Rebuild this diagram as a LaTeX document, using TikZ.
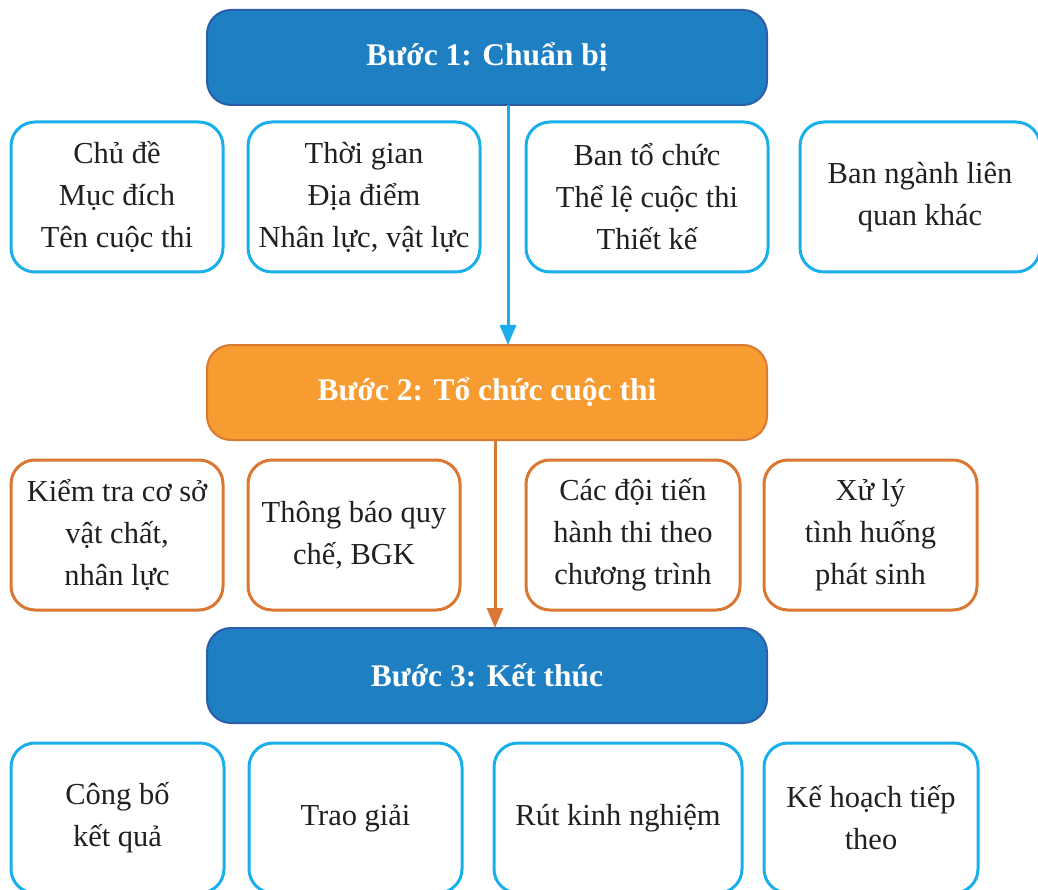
\documentclass[tikz,border=0pt]{standalone}
\usepackage{fontspec}
\setmainfont{Liberation Serif}
\usetikzlibrary{positioning, arrows.meta}

\definecolor{stepblue}{HTML}{1E7FC3}
\definecolor{stepblueline}{HTML}{2B5DA8}
\definecolor{steporange}{HTML}{F69C30}
\definecolor{steporangeline}{HTML}{D97A33}
\definecolor{boxcyan}{HTML}{1AAFEA}
\definecolor{boxorange}{HTML}{DA7833}
\definecolor{inktext}{HTML}{231F20}

\begin{document}
\begin{tikzpicture}[
            x=1pt, y=-1pt,
            header/.style={rectangle, rounded corners=24pt, draw, line width=2pt, outer sep=0pt,
                minimum width=560pt, minimum height=95pt, text=white,
                font=\fontsize{31.5}{36}\selectfont\bfseries},
            item/.style={rectangle, rounded corners=24pt, draw, line width=3pt, outer sep=0pt,
                fill=white, minimum height=150pt, inner sep=0pt, align=center, text=inktext,
                font=\fontsize{30.5}{42}\selectfont},
            flow/.style={line width=3pt, -{Triangle[length=20pt, width=16pt]}},
            node distance=25pt
        ]
        \useasboundingbox (0,0) rectangle (1038,890);

        % Steps
        \node[header, fill=stepblue, draw=stepblueline] (prep) at (487,57.5) {Bước 1: Chuẩn bị};
        \node[header, fill=steporange, draw=steporangeline] (run) at (487,392.5) {Bước 2: Tổ chức cuộc thi};
        \node[header, fill=stepblue, draw=stepblueline] (close) at (487,675.5) {Bước 3: Kết thúc};

        % flow between steps
        \draw[flow, boxcyan] ([xshift=21pt]prep.south) -- ([xshift=21pt]run.north);
        \draw[flow, boxorange] ([xshift=8pt]run.south) -- ([xshift=8pt]close.north);

        % Step 1 items
        \node[item, draw=boxcyan, minimum width=212pt] (topic) at (117,197) {Chủ đề\\Mục đích\\Tên cuộc thi};
        \node[item, draw=boxcyan, minimum width=232pt, right=25pt of topic] (time) {Thời gian\\Địa điểm\\Nhân lực, vật lực};
        \node[item, draw=boxcyan, minimum width=242pt, right=46pt of time] (board) {Ban tổ chức\\Thể lệ cuộc thi\\Thiết kế};
        \node[item, draw=boxcyan, minimum width=240pt, right=32pt of board] (others) {Ban ngành liên\\quan khác};

        % Step 2 items
        \node[item, draw=boxorange, minimum width=212pt] (check) at (117,535) {Kiểm tra cơ sở\\vật chất,\\nhân lực};
        \node[item, draw=boxorange, minimum width=212pt, right=25pt of check] (rules) {Thông báo quy\\chế, BGK};
        \node[item, draw=boxorange, minimum width=214pt, right=66pt of rules] (teams) {Các đội tiến\\hành thi theo\\chương trình};
        \node[item, draw=boxorange, minimum width=213pt, right=24pt of teams] (issues) {Xử lý\\tình huống\\phát sinh};

        % Step 3 items
        \node[item, draw=boxcyan, minimum width=213pt] (results) at (117.5,818) {Công bố\\kết quả};
        \node[item, draw=boxcyan, minimum width=213pt, right=25pt of results] (awards) {Trao giải};
        \node[item, draw=boxcyan, minimum width=248pt, right=32pt of awards] (lessons) {Rút kinh nghiệm};
        \node[item, draw=boxcyan, minimum width=214pt, right=22pt of lessons] (next) {Kế hoạch tiếp\\theo};
    \end{tikzpicture}
\end{document}
